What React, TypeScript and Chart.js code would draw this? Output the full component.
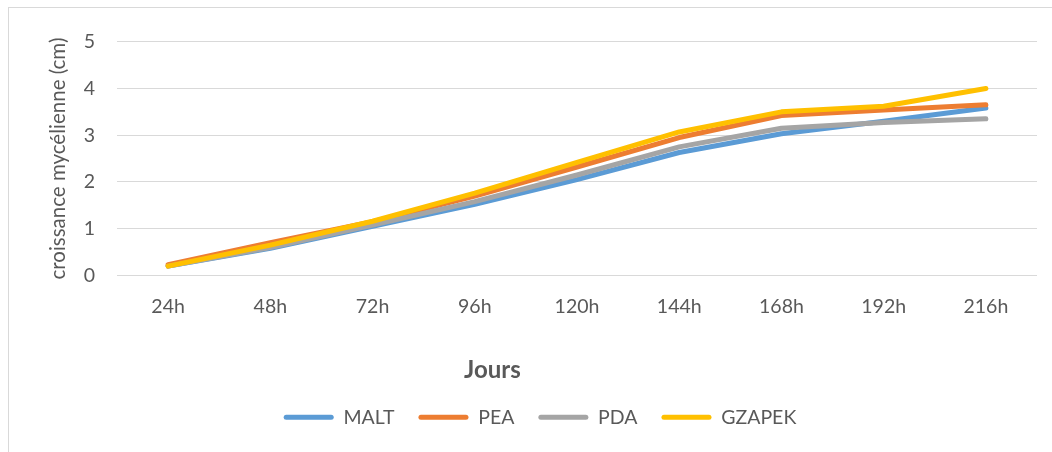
import React, { useEffect, useRef } from "react";
import { Chart, registerables } from "chart.js";

Chart.register(...registerables);

const categories = ["24h", "48h", "72h", "96h", "120h", "144h", "168h", "192h", "216h"];
const seriesNames = ["MALT", "PEA", "PDA", "GZAPEK"];
const malt = [0.2, 0.58, 1.05, 1.52, 2.05, 2.63, 3.03, 3.3, 3.58];
const pea = [0.23, 0.7, 1.15, 1.7, 2.32, 2.95, 3.42, 3.54, 3.65];
const pda = [0.2, 0.6, 1.08, 1.58, 2.15, 2.75, 3.15, 3.27, 3.35];
const gzapek = [0.2, 0.65, 1.16, 1.76, 2.42, 3.07, 3.5, 3.62, 4.0];
const colors = ["#5B9BD5", "#ED7D31", "#A5A5A5", "#FFC000"];
const yTitle = "croissance mycélienne (cm)";
const xTitle = "Jours";

const FONT = "Lato, 'Noto Sans', sans-serif";
const TEXT = "#595959";

export default function App() {
  const ref = useRef<HTMLCanvasElement | null>(null);

  useEffect(() => {
    if (!ref.current) return;
    const values = [malt, pea, pda, gzapek];
    const xTitlePlugin = {
      id: "xTitlePlugin",
      afterDraw(chart: any) {
        const { ctx, chartArea } = chart;
        ctx.save();
        ctx.font = `bold 24px ${FONT}`;
        ctx.fillStyle = TEXT;
        ctx.textAlign = "center";
        ctx.textBaseline = "middle";
        const x = chartArea.left + (chartArea.right - chartArea.left) * 0.408;
        ctx.fillText(xTitle, x, chartArea.bottom + 95);
        ctx.restore();
      },
    };
    const chart = new Chart(ref.current, {
      type: "line",
      data: {
        labels: categories,
        datasets: seriesNames.map((name, i) => ({
          label: name,
          data: values[i],
          borderColor: colors[i],
          backgroundColor: colors[i],
          borderWidth: 5,
          borderCapStyle: "round",
          borderJoinStyle: "round",
          pointRadius: 0,
          pointHoverRadius: 0,
          tension: 0,
          fill: false,
          order: 4 - i,
        })),
      },
      options: {
        responsive: false,
        animation: false,
        layout: { padding: { left: 34, right: 15, top: 29, bottom: 15 } },
        plugins: {
          tooltip: { enabled: false },
          legend: {
            position: "bottom",
            labels: {
              boxWidth: 50,
              boxHeight: 5,
              padding: 24,
              color: TEXT,
              font: { family: FONT, size: 19.5 },
              useBorderRadius: true,
              borderRadius: 2.5,
              sort: (a: any, b: any) => a.datasetIndex - b.datasetIndex,
              generateLabels: (c: any) =>
                (Chart.defaults.plugins.legend.labels.generateLabels as any)(c).map((l: any) => ({
                  ...l,
                  lineWidth: 0,
                  strokeStyle: "rgba(0,0,0,0)",
                })),
            },
          },
        },
        scales: {
          x: {
            offset: true,
            grid: { display: false, drawTicks: false, offset: true },
            border: { display: false },
            ticks: { color: TEXT, font: { family: FONT, size: 19.5 }, padding: 20 },
            afterFit: (s: any) => {
              s.height = 108;
            },
          },
          y: {
            min: 0,
            max: 5,
            ticks: { stepSize: 1, color: TEXT, font: { family: FONT, size: 19.5 }, padding: 22 },
            grid: { color: "#D9D9D9", lineWidth: 1, drawTicks: false },
            border: { display: false },
            title: {
              display: true,
              text: yTitle,
              color: TEXT,
              font: { family: FONT, size: 20.5 },
              padding: { top: 3, bottom: 0 },
            },
            afterFit: (s: any) => {
              s.width = 74;
            },
          },
        },
      },
      plugins: [xTitlePlugin],
    } as any);
    return () => chart.destroy();
  }, []);

  return (
    <div
      style={{
        position: "absolute",
        left: 8,
        top: 7,
        borderLeft: "1px solid #D9D9D9",
        borderTop: "1px solid #D9D9D9",
        background: "#fff",
      }}
    >
      <canvas ref={ref} width={1043} height={444} style={{ display: "block", width: 1043, height: 444 }} />
    </div>
  );
}
